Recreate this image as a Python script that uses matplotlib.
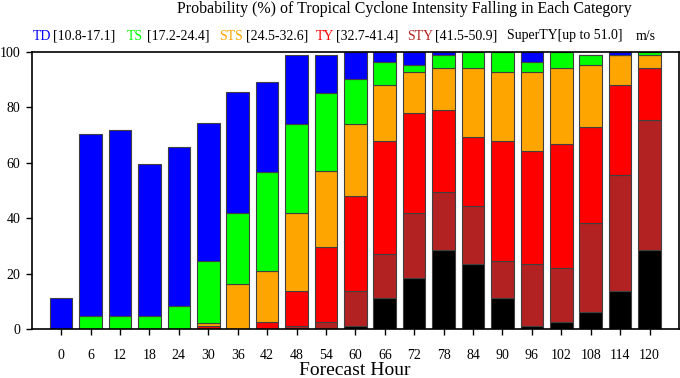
import numpy as np
import matplotlib
matplotlib.use('Agg')
import matplotlib.pyplot as plt

plt.rcParams['font.family'] = ['Liberation Serif', 'DejaVu Serif']

# forecast hours
hours = [0, 6, 12, 18, 24, 30, 36, 42, 48, 54, 60, 66, 72, 78, 84, 90, 96, 102, 108, 114, 120]

# probability (%) per category, bottom to top
super_ty = [0, 0, 0, 0, 0, 0, 0, 0, 0, 0, 1.3, 11.2, 18.6, 28.5, 23.5, 11.2, 1.3, 2.5, 6.2, 13.7, 28.5]
sty = [0, 0, 0, 0, 0, 0, 0, 0, 1.2, 2.5, 12.4, 16.0, 23.4, 20.8, 21.0, 13.5, 22.2, 19.7, 32.1, 41.8, 46.9]
ty = [0, 0, 0, 0, 0, 1.2, 0, 2.5, 12.5, 27.1, 34.4, 40.7, 36.0, 29.8, 24.7, 43.2, 40.8, 44.5, 34.6, 32.4, 18.6]
sts = [0, 0, 0, 0, 0, 1.2, 16.2, 18.5, 28.3, 27.3, 26.0, 20.0, 14.7, 14.9, 24.8, 24.8, 28.4, 27.3, 22.3, 10.9, 4.8]
ts = [0, 4.8, 4.8, 4.8, 8.5, 22.2, 25.8, 35.8, 32.1, 28.2, 16.1, 8.5, 2.5, 4.8, 6.0, 7.3, 3.7, 6.0, 3.6, 0, 1.2]
td = [11.2, 65.7, 66.9, 54.6, 57.1, 49.6, 43.4, 32.2, 24.7, 13.7, 9.8, 3.6, 4.8, 1.2, 0, 0, 3.6, 0, 0, 1.2, 0]

colors = ['#000000', '#b22222', '#ff0000', '#ffa500', '#00ff00', '#0000ff']

fig = plt.figure(figsize=(6.8, 3.78), dpi=100)
ax = fig.add_axes([31.7 / 680, 1 - 329.3 / 378, (679 - 31.7) / 680, (329.3 - 51.7) / 378])

bottom = np.zeros(len(hours))
for vals, c in zip([super_ty, sty, ty, sts, ts, td], colors):
    vals = np.array(vals)
    ax.bar(hours, vals, width=4.6, bottom=bottom, color=c,
           edgecolor='0.25', linewidth=0.8, zorder=2)
    bottom += vals

ax.set_xlim(-6, 126)
ax.set_ylim(0, 100)
ax.set_xticks(hours)
ax.set_yticks([0, 20, 40, 60, 80, 100])
ax.tick_params(axis='x', direction='out', length=4, width=1, pad=10, labelsize=10)
ax.tick_params(axis='y', direction='out', length=4, width=1, pad=4, labelsize=10)
for s in ax.spines.values():
    s.set_linewidth(1.2)

# title and axis label
fig.text(404 / 680, 1 - 13 / 378, 'Probability (%) of Tropical Cyclone Intensity Falling in Each Category',
         ha='center', va='baseline', fontsize=11.5)
fig.text(355 / 680, 1 - 375 / 378, 'Forecast Hour', ha='center', va='baseline', fontsize=14)

# colour-coded category key
key = [
    (33, 'TD', '#0000ff'), (53, '[10.8-17.1]', 'black'),
    (127, 'TS', '#00ff00'), (147, '[17.2-24.4]', 'black'),
    (219, 'STS', '#ffa500'), (246, '[24.5-32.6]', 'black'),
    (316, 'TY', '#ff0000'), (336, '[32.7-41.4]', 'black'),
    (407, 'STY', '#b22222'), (435, '[41.5-50.9]', 'black'),
    (507, 'SuperTY[up to 51.0]', 'black'), (636, 'm/s', 'black'),
]
for xpix, txt, c in key:
    fig.text(xpix / 680, 1 - 39.5 / 378, txt, color=c, ha='left', va='baseline', fontsize=10)

fig.savefig('out.png', dpi=100)
